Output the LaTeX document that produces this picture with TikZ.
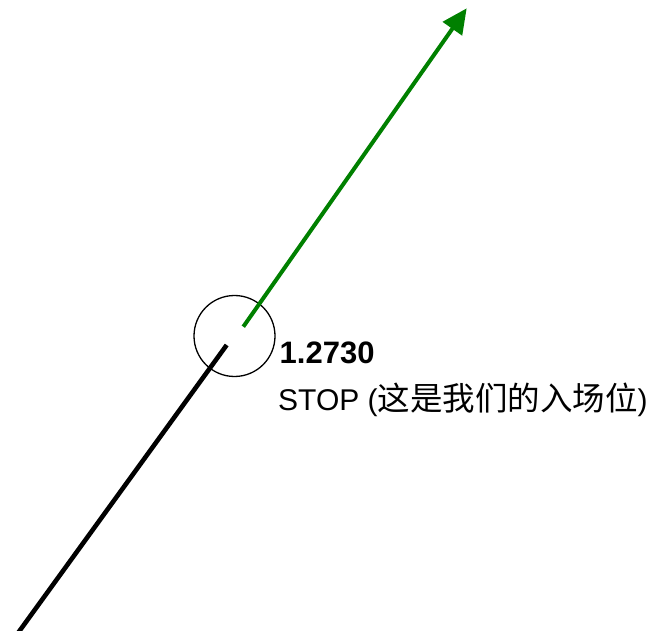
\documentclass[tikz,border=0pt]{standalone}
\usepackage{fontspec}
\setmainfont{Liberation Sans}
\newfontfamily\cjkfont{Noto Sans CJK SC}
\usetikzlibrary{arrows.meta, positioning}

\begin{document}
\begin{tikzpicture}[
    x=1pt, y=-1pt,
    every node/.style={font=\fontsize{30}{36}\selectfont, inner sep=0pt},
    ring/.style={circle, draw, line width=1.3pt, minimum size=81pt},
    pathin/.style={line width=4.6pt, black},
    pathout/.style={line width=4pt, green!50!black, -{Triangle[length=25pt, width=23pt]}},
    label/.style={anchor=base west}
]
\useasboundingbox (0,0) rectangle (654,631);

% Stop circle
\node[ring] (stop) at (234.5, 336) {};

% Path ends
\coordinate (start) at (18, 633);
\coordinate (inend) at (226.7, 345);
\coordinate (outstart) at (243.3, 326.7);
\coordinate (target) at (466.7, 8.3);

% Incoming and outgoing legs
\draw[pathin] (start) -- (inend);
\draw[pathout] (outstart) -- (target);

% Labels
\node[label, font=\fontsize{31}{36}\selectfont\bfseries] (price) at (279.5, 363) {1.2730};
\node[label] (note) at (278, 410) {STOP ({\cjkfont\fontsize{32.5}{36}\selectfont 这是我们的入场位})};

\end{tikzpicture}
\end{document}
